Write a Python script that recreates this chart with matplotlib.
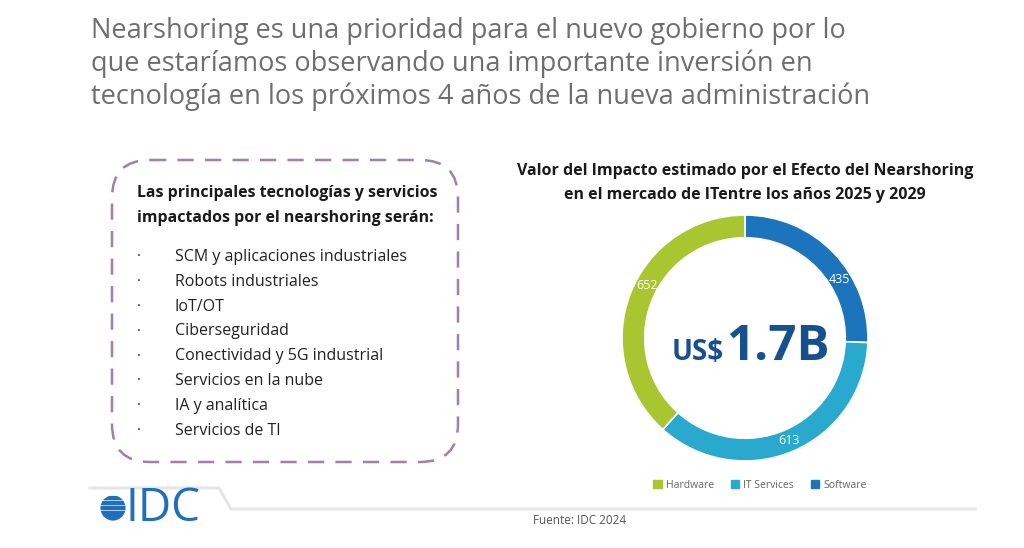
import matplotlib
matplotlib.use("Agg")
import matplotlib.pyplot as plt
import numpy as np
from matplotlib.patches import FancyBboxPatch, Circle, Rectangle, Patch

plt.rcParams['font.family'] = ['Open Sans', 'DejaVu Sans']

# data
segments = ['Software', 'IT Services', 'Hardware']
values = [435, 613, 652]
colors = ['#1c75bc', '#2aa9cf', '#a9c52f']
legend_order = ['Hardware', 'IT Services', 'Software']
total_label = '1.7B'

title_lines = ['Nearshoring es una prioridad para el nuevo gobierno por lo',
               'que estaríamos observando una importante inversión en',
               'tecnología en los próximos 4 años de la nueva administración']
box_header = ['Las principales tecnologías y servicios',
              'impactados por el nearshoring serán:']
items = ['SCM y aplicaciones industriales', 'Robots industriales', 'IoT/OT',
         'Ciberseguridad', 'Conectividad y 5G industrial', 'Servicios en la nube',
         'IA y analítica', 'Servicios de TI']
chart_title = ['Valor del Impacto estimado por el Efecto del Nearshoring',
               'en el mercado de ITentre los años 2025 y 2029']

W, H = 1024, 548
fig = plt.figure(figsize=(W / 100, H / 100), dpi=100)
fig.patch.set_facecolor('white')

# overlay axes in pixel units
bg = fig.add_axes([0, 0, 1, 1])
bg.set_xlim(0, W)
bg.set_ylim(H, 0)
bg.axis('off')

for i, line in enumerate(title_lines):
    bg.text(91, 31 + i * 33, line, fontsize=19.5, color='#6e6e6e', va='center', ha='left')

# dashed box
box = FancyBboxPatch((112, 160), 346, 302, boxstyle='round,pad=0,rounding_size=38',
                     fill=False, edgecolor='#a27fa8', lw=1.8, linestyle=(0, (6.5, 4.5)))
bg.add_patch(box)
for i, line in enumerate(box_header):
    bg.text(137, 193 + i * 24.5, line, fontsize=11.4, fontweight='bold', color='#1a1a1a',
            va='center')
for i, it in enumerate(items):
    y = 257 + i * 24.8
    bg.text(139, y, '·', fontsize=11, color='#222222', va='center', ha='center')
    bg.text(175, y, it, fontsize=11.5, color='#222222', va='center')

# chart title
for i, line in enumerate(chart_title):
    bg.text(745, 171 + i * 24, line, fontsize=11.5, fontweight='bold', color='#1a1a1a',
            ha='center', va='center')

# footer line with tab
bg.plot([90, 219, 231, 975], [488, 488, 509, 509], color='#e6e6e6', lw=2.2,
        solid_joinstyle='miter')
bg.text(580, 521, 'Fuente: IDC 2024', fontsize=8.5, color='#555555', ha='center',
        va='center')

# IDC logo
globe = Circle((113, 508), 12.5, transform=bg.transData)
for k in range(5):
    r = Rectangle((98, 495.5 + k * 5.2), 30, 3.4, color='#1f6fbf')
    bg.add_patch(r)
    r.set_clip_path(globe)
bg.text(126, 509, 'IDC', fontsize=33, color='#1f6fbf', va='center', ha='left')

# donut
R = 123.0
cx, cy = 745, 338
pad = 132
ax = fig.add_axes([(cx - pad) / W, (H - cy - pad) / H, 2 * pad / W, 2 * pad / H])
wedges, _ = ax.pie(values, colors=colors, startangle=90, counterclock=False, radius=1,
                   wedgeprops=dict(width=0.185, edgecolor='white', linewidth=1.2))
ax.set_xlim(-pad / R, pad / R)
ax.set_ylim(-pad / R, pad / R)
ax.set_aspect('equal')
ax.axis('off')

fracs = [0.63, 0.5, 0.55]
for w, v, f in zip(wedges, values, fracs):
    a = np.deg2rad(w.theta2 - f * (w.theta2 - w.theta1))
    ax.text(0.905 * np.cos(a), 0.905 * np.sin(a), str(v), color='white', fontsize=9,
            ha='center', va='center')

ax.text(-0.6, -0.18, 'US$', fontsize=20, fontweight='bold', color='#17508f',
        ha='left', va='baseline')
ax.text(-0.155, -0.18, total_label, fontsize=35.5, fontweight='bold', color='#17508f',
        ha='left', va='baseline')

handles = [Patch(color=colors[segments.index(s)]) for s in legend_order]
fig.legend(handles, legend_order, loc='center', bbox_to_anchor=(760 / W, 1 - 485 / H),
           ncol=3, frameon=False, fontsize=7.5, labelcolor='#666666', handlelength=0.8,
           handleheight=0.8, handletextpad=0.4, columnspacing=1.6)

fig.savefig('out.png', dpi=100)
